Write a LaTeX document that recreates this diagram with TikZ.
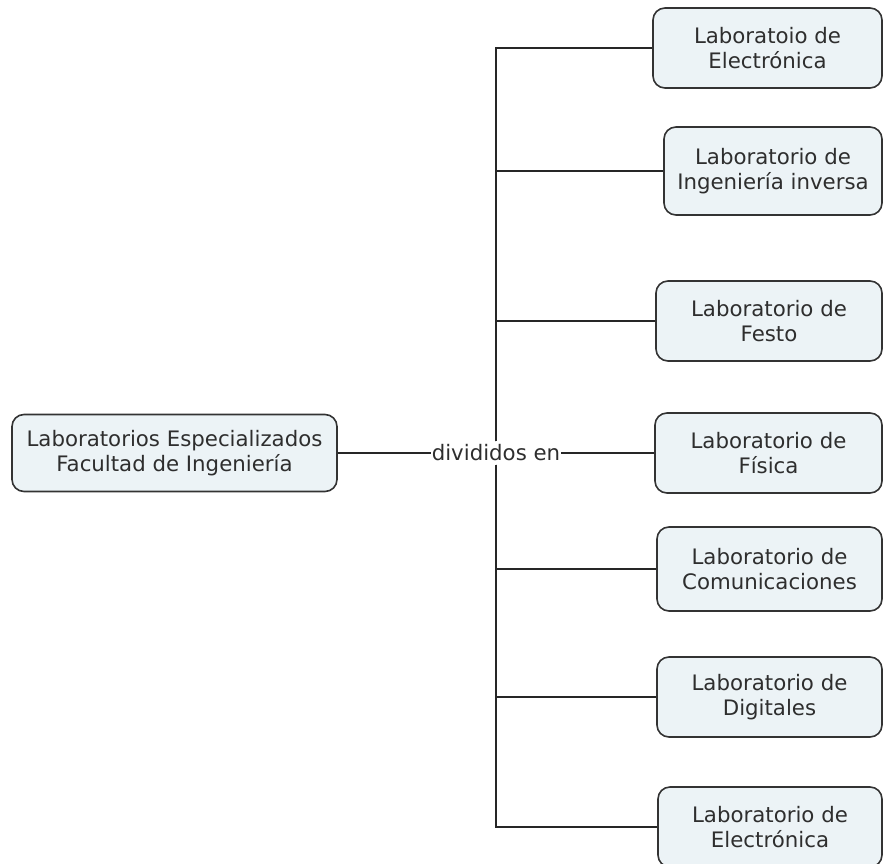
\documentclass[tikz,border=0pt]{standalone}
\usepackage{fontspec}
\setmainfont{DejaVu Sans}
\definecolor{boxfill}{HTML}{ECF3F6}
\definecolor{boxedge}{HTML}{333333}
\definecolor{inkcol}{HTML}{2E2E2E}
\begin{document}
\begin{tikzpicture}[x=1pt,y=-1pt,
  concept/.style={draw=boxedge,fill=boxfill,line width=1.6pt,rounded corners=12pt,
    inner sep=0pt,align=center,text=inkcol,
    font=\fontsize{21.3}{25}\selectfont},
  linkword/.style={inner xsep=1pt,inner ysep=0pt,minimum height=23pt,text=inkcol,
    font=\fontsize{21.3}{25}\selectfont},
  wire/.style={draw=black!85,line width=1.6pt}]
\useasboundingbox (0,0) rectangle (883,864);
\clip (0,0) rectangle (883,864);

% source concept
\node[concept,minimum width=325pt,minimum height=77pt] (src) at (174.5,453)
  {Laboratorios Especializados\\Facultad de Ingeniería};

% linking phrase
\node[linkword] (lbl) at (496,453) {divididos en};

% target concepts
\node[concept,minimum width=229pt,minimum height=80pt] (b1) at (767.5,48)
  {Laboratoio de\\Electrónica};
\node[concept,minimum width=218pt,minimum height=88pt] (b2) at (773,171)
  {Laboratorio de\\Ingeniería inversa};
\node[concept,minimum width=226pt,minimum height=80pt] (b3) at (769,321)
  {Laboratorio de\\Festo};
\node[concept,minimum width=227pt,minimum height=80pt] (b4) at (768.5,453)
  {Laboratorio de\\Física};
\node[concept,minimum width=225pt,minimum height=84pt] (b5) at (769.5,569)
  {Laboratorio de\\Comunicaciones};
\node[concept,minimum width=225pt,minimum height=80pt] (b6) at (769.5,697)
  {Laboratorio de\\Digitales};
\node[concept,minimum width=224pt,minimum height=80pt] (b7) at (770,827)
  {Laboratorio de\\Electrónica};

% connectors
\draw[wire] (src.east) -- (lbl.west);
\draw[wire] (lbl.east) -- (b4.west);
\draw[wire] (lbl.north) |- (b1.west);
\draw[wire] (lbl.north) |- (b2.west);
\draw[wire] (lbl.north) |- (b3.west);
\draw[wire] (lbl.south) |- (b5.west);
\draw[wire] (lbl.south) |- (b6.west);
\draw[wire] (lbl.south) |- (b7.west);
\end{tikzpicture}
\end{document}
